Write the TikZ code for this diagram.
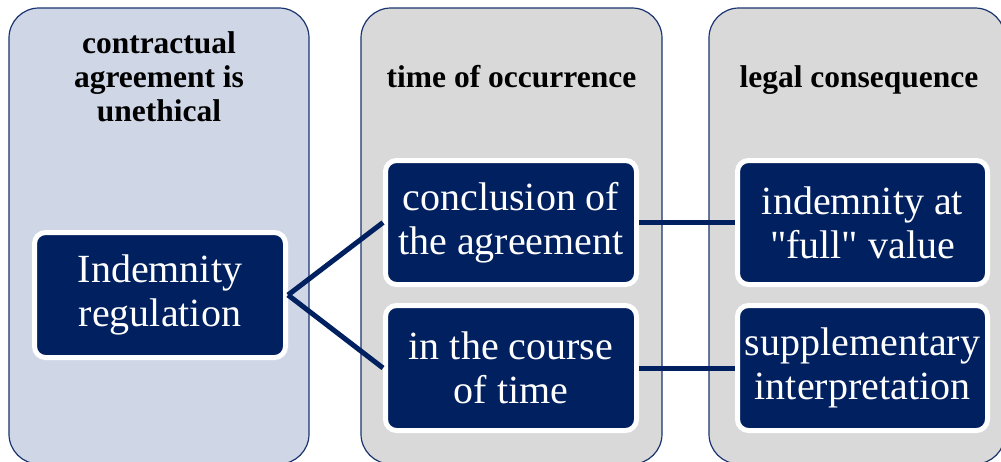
\documentclass[tikz,border=0pt]{standalone}
\usepackage{fontspec}
\setmainfont{Liberation Serif}
% same face without the TeX mapping, for straight double quotes
\newfontfamily\plainserif{Liberation Serif}
\newcommand{\dq}{{\plainserif\char34}}
\definecolor{navy}{HTML}{002060}
\definecolor{frame}{HTML}{1A3470}
\definecolor{bluepanel}{HTML}{CFD6E6}
\definecolor{greypanel}{HTML}{D9D9D9}
\tikzset{
  panel/.style={draw=frame, line width=1.2pt, rounded corners=30pt, inner sep=0pt},
  title/.style={font=\bfseries\fontsize{31.5}{34}\selectfont, align=center, text=black, inner sep=0pt},
  item/.style={draw=white, fill=navy, line width=5pt, rounded corners=11pt,
    text=white, align=center, inner sep=0pt,
    font=\fontsize{40}{44}\selectfont},
  link/.style={draw=navy, line width=5pt},
}
\begin{document}
\begin{tikzpicture}[x=1pt, y=-1pt]
  \useasboundingbox (0,0) rectangle (1001,461);
  % background columns
  \node[panel, fill=bluepanel, minimum width=300pt, minimum height=456pt] (colA) at (159,236) {};
  \node[panel, fill=greypanel, minimum width=301pt, minimum height=456pt] (colB) at (511.5,236) {};
  \node[panel, fill=greypanel, minimum width=296pt, minimum height=456pt] (colC) at (857,236) {};
  % column headings
  \node[title] (tA) at (159,77) {contractual\\agreement is\\unethical};
  \node[title, anchor=base] (tB) at (511.5,87) {time of occurrence};
  \node[title, anchor=base] (tC) at (859,87) {legal consequence};
  % boxes
  \node[item, minimum width=251pt, minimum height=125pt] (reg) at (160,295) {Indemnity\\regulation};
  \node[item, minimum width=251pt, minimum height=124pt] (concl) at (511,222.5) {conclusion of\\the agreement};
  \node[item, minimum width=251pt, minimum height=125pt] (course) at (511,368) {in the course\\of time};
  \node[item, minimum width=250pt, minimum height=124pt] (full) at (862.5,222.5) {indemnity at\\\dq full\dq{} value};
  \node[item, minimum width=250pt, minimum height=125pt] (suppl) at (862.5,368) {supplementary\\interpretation};
  % connectors
  \draw[link] (reg.east) -- (concl.west);
  \draw[link] (reg.east) -- (course.west);
  \draw[link] (concl.east) -- (full.west);
  \draw[link] (course.east) -- (suppl.west);
\end{tikzpicture}
\end{document}
